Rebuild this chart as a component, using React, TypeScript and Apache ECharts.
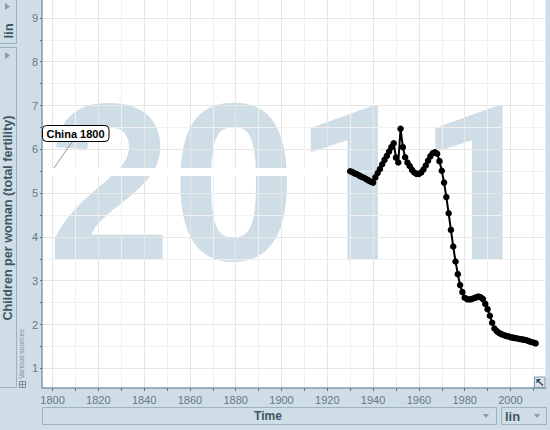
import React, { useEffect, useRef } from "react";
import * as echarts from "echarts";

const years = Array.from({ length: 82 }, (_, i) => 1930 + i);
const fertility = [
  5.5, 5.48, 5.45, 5.43, 5.4, 5.37, 5.35, 5.32, 5.29, 5.26, 5.24,
  5.36, 5.46, 5.55, 5.66, 5.76, 5.85, 5.95, 6.05, 6.14, 5.81,
  5.7, 6.47, 6.05, 5.82, 5.7, 5.62, 5.53, 5.47, 5.44, 5.44,
  5.47, 5.54, 5.63, 5.74, 5.84, 5.91, 5.93, 5.9, 5.73, 5.51,
  5.24, 4.91, 4.54, 4.16, 3.78, 3.44, 3.15, 2.9, 2.74, 2.61,
  2.58, 2.57, 2.58, 2.6, 2.62, 2.64, 2.62, 2.58, 2.47, 2.35,
  2.2, 2.04, 1.91, 1.85, 1.81, 1.78, 1.76, 1.74, 1.73, 1.71,
  1.7, 1.69, 1.68, 1.67, 1.66, 1.65, 1.64, 1.62, 1.6, 1.59, 1.57,
];
const xMajor = [1800, 1820, 1840, 1860, 1880, 1900, 1920, 1940, 1960, 1980, 2000];
const xMinor = [1800, 1810, 1820, 1830, 1840, 1850, 1860, 1870, 1880, 1890, 1900, 1910, 1920, 1930, 1940, 1950, 1960, 1970, 1980, 1990, 2000, 2010];
const yMajor = [1, 2, 3, 4, 5, 6, 7, 8, 9];
const yMinor = [1, 1.5, 2, 2.5, 3, 3.5, 4, 4.5, 5, 5.5, 6, 6.5, 7, 7.5, 8, 8.5, 9];

const FONT = "'Liberation Sans', Arial, sans-serif";
const PANEL = "#cfdde6";
const WATERMARK = "rgba(175,198,213,0.6)";
const EDGE = "#9db2bf";
const AXIS = "#7f98a8";
const LABEL = "#66788a";
const XR: [number, number] = [1795.4, 2015.3];
const YR: [number, number] = [0.55, 9.41];

function App() {
  const ref = useRef<HTMLDivElement>(null);
  useEffect(() => {
    const chart = echarts.init(ref.current!, undefined, { renderer: "svg" });
    const box = (x: number, y: number, w: number, h: number) => ({
      type: "rect", z: 50, shape: { x: x + 0.5, y: y + 0.5, width: w, height: h },
      style: { fill: "none", stroke: EDGE, lineWidth: 1 },
    });
    const tri = (pts: number[][], fill = "#8a9aa6") => ({
      type: "polygon", z: 50, shape: { points: pts }, style: { fill },
    });
    const label = (text: string, x: number, y: number, fill: string, font: string, rotated = false, align = "center") => ({
      type: "text", z: 50, x, y, rotation: rotated ? Math.PI / 2 : 0,
      style: { text, fill, font, align, verticalAlign: "middle" },
    });
    chart.setOption({
      animation: false,
      backgroundColor: PANEL,
      grid: { left: 42, top: 0, width: 503.5, height: 388, show: false },
      xAxis: [
        {
          type: "value", min: XR[0], max: XR[1], position: "bottom",
          axisLine: { show: true, onZero: false, lineStyle: { color: AXIS, width: 1.5 } },
          axisTick: { show: true, length: 3, customValues: xMinor, lineStyle: { color: "#5f7585" } },
          axisLabel: { show: false },
          splitLine: { show: true, lineStyle: { color: "#f0f0f0", width: 1 } },
        },
        {
          type: "value", min: XR[0], max: XR[1], position: "bottom",
          axisLine: { show: false },
          axisTick: { show: false, customValues: xMajor },
          axisLabel: { show: true, customValues: xMajor, color: LABEL, fontFamily: FONT, fontSize: 11, margin: 6, formatter: (v: number) => String(v) },
          splitLine: { show: true, lineStyle: { color: "#e6e6e6", width: 1 } },
        },
      ],
      yAxis: [
        {
          type: "value", min: YR[0], max: YR[1], position: "left",
          axisLine: { show: true, onZero: false, lineStyle: { color: AXIS, width: 1.5 } },
          axisTick: { show: true, length: 2, customValues: yMinor, lineStyle: { color: "#5f7585" } },
          axisLabel: { show: false },
          splitLine: { show: true, lineStyle: { color: "#f0f0f0", width: 1 } },
        },
        {
          type: "value", min: YR[0], max: YR[1], position: "left",
          axisLine: { show: false },
          axisTick: { show: false, customValues: yMajor },
          axisLabel: { show: true, customValues: yMajor, color: LABEL, fontFamily: FONT, fontSize: 11, margin: 4, formatter: (v: number) => String(v) },
          splitLine: { show: true, lineStyle: { color: "#e6e6e6", width: 1 } },
        },
      ],
      series: [
        {
          type: "line", xAxisIndex: 0, yAxisIndex: 0, z: 10,
          data: years.map((y, i) => [y, fertility[i]]),
          symbol: "circle", symbolSize: 6.5, showSymbol: true, showAllSymbols: true,
          lineStyle: { color: "#000", width: 2 },
          itemStyle: { color: "#000" },
        },
      ],
      graphic: {
        elements: [
          { type: "rect", z: -30, shape: { x: 42, y: 0, width: 503.5, height: 388 }, style: { fill: "#fff" } },
          { type: "text", x: 47, y: 70, style: { text: "20", fill: WATERMARK, font: `bold 224px ${FONT}`, align: "left", verticalAlign: "top" } },
          { type: "text", x: 293, y: 77, style: { text: "11", fill: WATERMARK, font: `bold 217px Roboto, ${FONT}`, align: "left", verticalAlign: "top" } },
          { type: "rect", z2: 1, shape: { x: 43, y: 168, width: 302, height: 8 }, style: { fill: "#fff" } },
          box(-2, -17, 18, 60),
          box(-2, 47, 18, 340),
          box(42, 407, 454, 17),
          box(501, 407, 45, 17),
          tri([[5, 3], [5, 10], [10, 6.5]]),
          tri([[5, 52], [5, 59], [10, 55.5]]),
          tri([[483, 414], [489, 414], [486, 418]]),
          tri([[534, 414], [540, 414], [537, 418]]),
          label("lin", 8, 31, "#3f5666", `bold 13px ${FONT}`, true),
          label("Children per woman (total fertility)", 8, 218, "#3f5666", `bold 12.6px ${FONT}`, true),
          label("Various sources", 21, 354, "#7e919e", `7px ${FONT}`, true),
          label("Time", 268, 416, "#3f5666", `bold 12px ${FONT}`),
          label("lin", 505, 416, "#3f5666", `bold 13px ${FONT}`, false, "left"),
          // sources icon
          { type: "rect", z: 50, shape: { x: 19.5, y: 381.5, width: 6, height: 6 }, style: { fill: "none", stroke: "#7e919e", lineWidth: 1 } },
          { type: "line", z: 50, shape: { x1: 19.5, y1: 384.5, x2: 25.5, y2: 384.5 }, style: { stroke: "#7e919e", lineWidth: 1 } },
          { type: "line", z: 50, shape: { x1: 22.5, y1: 381.5, x2: 22.5, y2: 387.5 }, style: { stroke: "#7e919e", lineWidth: 1 } },
          // expand button
          { type: "rect", z: 50, shape: { x: 534.5, y: 377, width: 10.5, height: 10.5 }, style: { fill: "#dbe6ec", stroke: "#7f98a8", lineWidth: 1 } },
          { type: "line", z: 51, shape: { x1: 537, y1: 380, x2: 543, y2: 385.5 }, style: { stroke: "#33495a", lineWidth: 1.5 } },
          { type: "polygon", z: 51, shape: { points: [[536.5, 379], [541, 379], [536.5, 383.5]] }, style: { fill: "#33495a" } },
          // annotation
          { type: "line", z: 60, shape: { x1: 72, y1: 142, x2: 54, y2: 168 }, style: { stroke: "#999", lineWidth: 1 } },
          { type: "rect", z: 61, shape: { x: 42.5, y: 125.5, width: 66.5, height: 16, r: 4 }, style: { fill: "#fff", stroke: "#000", lineWidth: 1 } },
          { type: "text", z: 62, x: 75.5, y: 133.5, style: { text: "China 1800", fill: "#000", font: `bold 11px ${FONT}`, align: "center", verticalAlign: "middle" } },
        ],
      },
    });
    return () => chart.dispose();
  }, []);
  return <div ref={ref} style={{ position: "fixed", left: 0, top: 0, width: 550, height: 430 }} />;
}

export default App;
